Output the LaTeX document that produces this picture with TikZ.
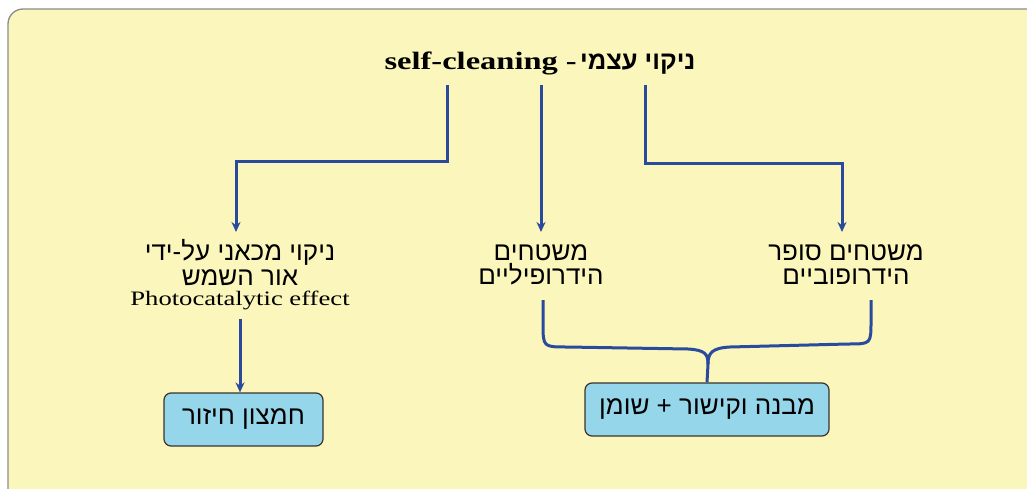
\documentclass[tikz,border=0pt]{standalone}
\usepackage{fontspec}
\usetikzlibrary{arrows.meta}
\TeXXeTstate=1
\newfontfamily\heb[Script=Hebrew]{Liberation Sans}
\newfontfamily\titlefont[FakeStretch=1.3]{Liberation Serif}
\newfontfamily\photofont[FakeStretch=1.3]{Liberation Serif}
\definecolor{bgyellow}{HTML}{FBF7BC}
\definecolor{bgborder}{HTML}{8C8C8C}
\definecolor{lineblue}{HTML}{2A4A9E}
\definecolor{boxblue}{HTML}{96D6EA}
\definecolor{boxborder}{HTML}{3A3330}
\tikzset{
  conn/.style={draw=lineblue, line width=3pt, -{Stealth[length=10pt,width=9pt]}},
  plainline/.style={draw=lineblue, line width=3pt},
  txt/.style={inner sep=0pt, align=center, font=\heb\fontsize{26}{25}\selectfont},
  resbox/.style={draw=boxborder, fill=boxblue, line width=1.2pt, rounded corners=7pt,
     font=\heb\fontsize{26}{25}\selectfont, inner sep=0pt},
}
\begin{document}
\begin{tikzpicture}[x=1pt,y=-1pt]
\useasboundingbox (0,0) rectangle (1027,489);
\fill[white] (0,0) rectangle (1027,489);
\clip (0,0) rectangle (1027,489);
\draw[fill=bgyellow, draw=bgborder, line width=1.3pt, rounded corners=15pt] (8,9) rectangle (1060,520);

\node[inner sep=0pt, minimum height=44pt] (title) at (540,63)
  {{\titlefont\bfseries\fontsize{25}{28}\selectfont self-cleaning -} {\heb\bfseries\fontsize{25.5}{28}\selectfont\beginR ניקוי עצמי\endR}};

\node[txt, anchor=north] (left) at (240,239)
  {\beginR ניקוי מכאני על-ידי\endR\\ \beginR אור השמש\endR\\[-5pt] {\photofont\fontsize{20.5}{21}\selectfont Photocatalytic effect}};
\node[txt, anchor=north, font=\heb\fontsize{26}{24}\selectfont] (mid) at (541,244)
  {\beginR משטחים\endR\\ \beginR הידרופיליים\endR};
\node[txt, anchor=north, font=\heb\fontsize{26}{24}\selectfont] (right) at (846,244)
  {\beginR משטחים סופר\endR\\ \beginR הידרופוביים\endR};

\node[resbox, minimum width=159pt, minimum height=53pt] (box1) at (243.5,419.5)
  {\beginR חמצון חיזור\endR};
\node[resbox, minimum width=244pt, minimum height=53pt] (box2) at (707,409.5)
  {\beginR מבנה וקישור + שומן\endR};

\draw[conn] ([xshift=-93pt]title.south) -- ++(0,76) -| ([xshift=-4pt,yshift=7pt]left.north);
\draw[conn] ([xshift=1pt]title.south) -- ([yshift=12pt]mid.north);
\draw[conn] ([xshift=105pt]title.south) -- ++(0,78) -| ([xshift=-4pt,yshift=12pt]right.north);
\draw[conn] ([yshift=-9pt]left.south) -- (left.south |- box1.north);

\coordinate (bl) at (543,300);
\coordinate (br) at (871,300);
\coordinate (bm) at (708,364);
\draw[plainline] (bl) -- (543,323) .. controls (543,347) .. (567,347) -- (688,349)
   .. controls (705,350) and (708,354) .. (bm) -- (box2.north);
\draw[plainline] (bm) .. controls (708,353) and (712,348) .. (730,347) -- (848,344)
   .. controls (871,344) .. (871,321) -- (br);
\end{tikzpicture}
\end{document}
